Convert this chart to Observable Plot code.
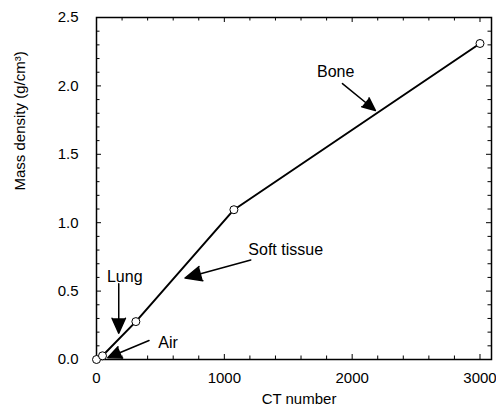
<!DOCTYPE html>
<html>
<head>
<meta charset="utf-8">
<script src="https://cdn.jsdelivr.net/npm/d3@7"></script>
<script src="https://cdn.jsdelivr.net/npm/@observablehq/plot@0.6"></script>
<style>
  body { margin: 0; background: white; }
</style>
</head>
<body>
<div id="chart"></div>
<script>
// Data points (CT number vs mass density)
const ctNumber = [0, 47, 308, 1075, 3000];
const massDensity = [0, 0.027, 0.277, 1.095, 2.31];

// Annotation labels
const annoText = ["Air", "Lung", "Soft tissue", "Bone"];
const annoX = [560, 221, 1480, 1871];
const annoY = [0.122, 0.601, 0.803, 2.102];

// Annotation arrows (start -> tip)
const arrowX1 = [411, 174, 1207, 1924];
const arrowY1 = [0.139, 0.553, 0.728, 2.017];
const arrowX2 = [88, 174, 693, 2182];
const arrowY2 = [0.013, 0.192, 0.596, 1.82];

// Ticks
const xMajorTicks = [0, 1000, 2000, 3000];
const xMinorTicks = [200, 400, 600, 800, 1200, 1400, 1600, 1800, 2200, 2400, 2600, 2800];
const yMajorTicks = [0, 0.5, 1.0, 1.5, 2.0, 2.5];
const yMinorTicks = [0.1, 0.2, 0.3, 0.4, 0.6, 0.7, 0.8, 0.9, 1.1, 1.2, 1.3, 1.4, 1.6, 1.7, 1.8, 1.9, 2.1, 2.2, 2.3, 2.4];

const xLabel = "CT number";
const yLabel = "Mass density (g/cm³)";

const points = ctNumber.map((x, i) => ({x, y: massDensity[i]}));
const annos = annoText.map((t, i) => ({t, x: annoX[i], y: annoY[i]}));
const arrows = arrowX1.map((x1, i) => ({x1, y1: arrowY1[i], x2: arrowX2[i], y2: arrowY2[i]}));

const W = 496, H = 413;
const mL = 96, mR = 5, mT = 17, mB = 54;
const fw = W - mL - mR, fh = H - mT - mB;
const major = 5, minor = 3.5;

const chart = Plot.plot({
  width: W,
  height: H,
  marginLeft: mL,
  marginRight: mR,
  marginTop: mT,
  marginBottom: mB,
  x: {domain: [0, 3090]},
  y: {domain: [0, 2.5]},
  style: {fontFamily: "'Liberation Sans', Arial, sans-serif", fontSize: "15px", color: "black", background: "white"},
  marks: [
    Plot.axisX({ticks: xMajorTicks, tickSize: 0, tickPadding: 13, tickFormat: d => String(d), label: null, fontSize: 15}),
    Plot.axisY({ticks: yMajorTicks, tickSize: 0, tickPadding: 18, tickFormat: d3.format(".1f"), label: null, fontSize: 15}),
    // inward ticks: bottom & top
    Plot.tickX(xMajorTicks, {x: d => d, insetTop: fh - major, stroke: "black"}),
    Plot.tickX(xMinorTicks, {x: d => d, insetTop: fh - minor, stroke: "black"}),
    Plot.tickX(xMajorTicks, {x: d => d, insetBottom: fh - major, stroke: "black"}),
    Plot.tickX(xMinorTicks, {x: d => d, insetBottom: fh - minor, stroke: "black"}),
    // inward ticks: left & right
    Plot.tickY(yMajorTicks, {y: d => d, insetRight: fw - major, stroke: "black"}),
    Plot.tickY(yMinorTicks, {y: d => d, insetRight: fw - minor, stroke: "black"}),
    Plot.tickY(yMajorTicks, {y: d => d, insetLeft: fw - major, stroke: "black"}),
    Plot.tickY(yMinorTicks, {y: d => d, insetLeft: fw - minor, stroke: "black"}),
    Plot.frame({stroke: "black", strokeWidth: 1.5}),
    Plot.line(points, {x: "x", y: "y", stroke: "black", strokeWidth: 2}),
    Plot.arrow(arrows, {x1: "x1", y1: "y1", x2: "x2", y2: "y2", stroke: "black", fill: "black", strokeWidth: 1.5, headLength: 18, headAngle: 48}),
    Plot.dot(points, {x: "x", y: "y", r: 4, fill: "white", stroke: "black", strokeWidth: 1}),
    Plot.text(annos, {x: "x", y: "y", text: "t", fontSize: 16, fill: "black"}),
    Plot.text([xLabel], {text: d => d, frameAnchor: "bottom", dy: 44, dx: 5, fontSize: 15, fill: "black"}),
    Plot.text([yLabel], {text: d => d, frameAnchor: "left", rotate: -90, dx: -76, dy: 2, fontSize: 15, fill: "black"})
  ]
});
document.getElementById("chart").appendChild(chart);
</script>
</body>
</html>
